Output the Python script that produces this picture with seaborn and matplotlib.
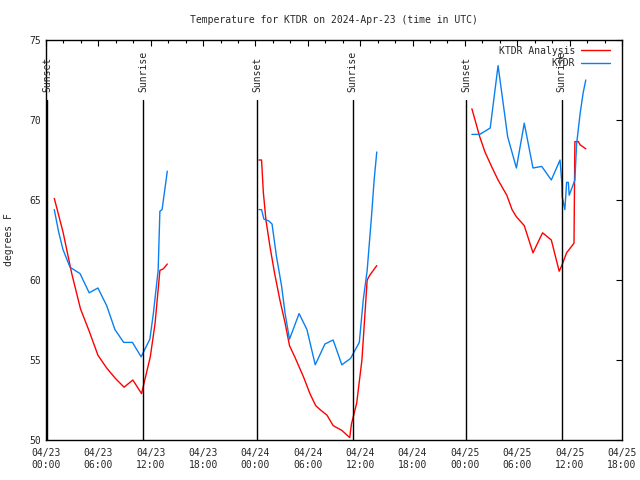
import matplotlib
matplotlib.use('Agg')
import matplotlib.pyplot as plt
import matplotlib.dates as mdates
import matplotlib.transforms as mtransforms
import pandas as pd
import seaborn as sns

start = pd.Timestamp('2024-04-23 00:00')

# hours after 04/23 00:00 UTC, temperatures in degrees F
analysis_hours = [0.95, 1.95, 2.95, 3.95, 4.95, 5.95, 6.95, 7.95, 8.95, 9.95, 10.95, 11.95, 12.5, 13.05, 13.45, 13.9,
                  24.4, 24.7, 24.9, 25.2, 25.66, 26.2, 26.8, 27.4, 27.9, 28.5, 29.5, 30.24, 30.9, 31.4, 32.2, 32.9,
                  33.9, 34.8, 35.0, 35.6, 36.2, 36.5, 36.8, 37.1, 37.9,
                  48.8, 49.7, 50.3, 51.05, 51.8, 52.8, 53.4, 53.9, 54.8, 55.8, 56.9, 57.9, 58.8, 59.1, 59.65,
                  60.5, 60.6, 61.0, 61.2, 61.85]
analysis_temp = [65.1, 63.0, 60.4, 58.2, 56.8, 55.3, 54.5, 53.85, 53.3, 53.75, 52.9, 55.2, 57.3, 60.6, 60.7, 61.0,
                 67.5, 67.5, 65.5, 63.75, 62.1, 60.4, 58.75, 57.3, 55.9, 55.2, 53.95, 52.9, 52.15, 51.9, 51.55, 50.9,
                 50.6, 50.15, 51.0, 52.3, 55.0, 57.5, 60.0, 60.3, 60.9,
                 70.7, 68.95, 68.0, 67.1, 66.25, 65.3, 64.4, 63.95, 63.4, 61.7, 62.95, 62.5, 60.55, 60.9, 61.7,
                 62.3, 68.65, 68.65, 68.45, 68.2]

obs_hours = [0.95, 1.45, 1.95, 2.75, 3.9, 4.95, 5.95, 6.95, 7.9, 8.9, 9.9, 10.9, 11.9, 12.3, 12.85, 13.05, 13.3, 13.9,
             24.4, 24.7, 24.97, 25.5, 25.9, 26.4, 27.0, 27.4, 27.9, 29.0, 29.9, 30.85, 31.96, 32.9, 33.9, 34.9,
             35.9, 36.35, 36.8, 37.3, 37.6, 37.9,
             48.8, 49.7, 50.9, 51.8, 52.9, 53.9, 54.8, 55.8, 56.8, 57.9, 58.9, 59.1, 59.15, 59.45, 59.55, 59.65,
             59.85, 59.95, 60.6, 60.8, 61.2, 61.55, 61.85]
obs_temp = [64.4, 63.0, 61.9, 60.8, 60.4, 59.2, 59.5, 58.4, 56.9, 56.1, 56.1, 55.2, 56.3, 57.9, 60.6, 64.3, 64.4, 66.8,
            64.4, 64.4, 63.8, 63.7, 63.5, 61.5, 59.6, 57.9, 56.3, 57.9, 56.9, 54.7, 56.0, 56.25, 54.7, 55.1,
            56.1, 58.75, 60.6, 64.0, 66.25, 68.0,
            69.1, 69.1, 69.5, 73.4, 68.95, 67.0, 69.8, 67.0, 67.1, 66.25, 67.5, 66.1, 65.2, 64.4, 65.2, 66.1,
            66.1, 65.3, 66.25, 68.5, 70.4, 71.7, 72.5]

sunset_times = ['2024-04-23 00:10', '2024-04-24 00:12', '2024-04-25 00:08']
sunrise_times = ['2024-04-23 11:09', '2024-04-24 11:08', '2024-04-25 11:05']


def to_frame(hours, temps):
    df = pd.DataFrame({'hours': hours, 'temp': temps})
    df['time'] = start + pd.to_timedelta(df['hours'], unit='h')
    df['segment'] = (df['hours'].diff() > 5).cumsum()
    return df


analysis_df = to_frame(analysis_hours, analysis_temp)
obs_df = to_frame(obs_hours, obs_temp)

sns.set_style('white')
plt.rcParams['font.family'] = ['DejaVu Sans Mono']

fig = plt.figure(figsize=(6.4, 4.8), dpi=100)
ax = fig.add_axes([46 / 640, 40 / 480, 576 / 640, 400 / 480])

sns.lineplot(data=analysis_df, x='time', y='temp', units='segment', estimator=None,
             color='#ff0000', lw=1.0, label='KTDR Analysis', ax=ax)
sns.lineplot(data=obs_df, x='time', y='temp', units='segment', estimator=None,
             color='#0a80f0', lw=1.0, label='KTDR', ax=ax)

# sunset / sunrise markers
trans = mtransforms.blended_transform_factory(ax.transData, ax.transAxes)
for name, times in [('Sunset', sunset_times), ('Sunrise', sunrise_times)]:
    for t in times:
        t = pd.Timestamp(t)
        ax.axvline(t, ymin=0, ymax=0.85, color='black', lw=1.0)
        ax.text(t, 0.87, name, rotation=90, ha='center', va='bottom',
                fontsize=7, transform=trans)

ax.set_xlim(start, start + pd.Timedelta(hours=66))
ax.set_ylim(50, 75)
ax.set_yticks(range(50, 76, 5))
ax.xaxis.set_major_locator(mdates.HourLocator(byhour=[0, 6, 12, 18]))
ax.xaxis.set_minor_locator(mdates.HourLocator(byhour=range(0, 24, 2)))
ax.xaxis.set_major_formatter(mdates.DateFormatter('%m/%d\n%H:%M'))
ax.tick_params(which='major', direction='in', length=4, width=0.8, labelsize=7,
               top=True, right=True, color='black')
ax.tick_params(which='minor', direction='in', length=2, width=0.8, top=True, right=True, color='black')
ax.tick_params(axis='x', pad=6)

for spine in ax.spines.values():
    spine.set_color('black')
    spine.set_linewidth(1.0)

ax.set_xlabel('')
ax.set_ylabel('degrees F', fontsize=7, labelpad=11)
ax.set_title('Temperature for KTDR on 2024-Apr-23 (time in UTC)', fontsize=7, pad=12)

handles, labels = ax.get_legend_handles_labels()
unique = dict(zip(labels, handles))
ax.legend(unique.values(), unique.keys(), loc='upper right', bbox_to_anchor=(0.991, 1.003),
          frameon=False, markerfirst=False, fontsize=7, handlelength=3.0, handletextpad=0.6,
          labelspacing=0.25, borderaxespad=0.3)

fig.savefig('out.png', dpi=100)
